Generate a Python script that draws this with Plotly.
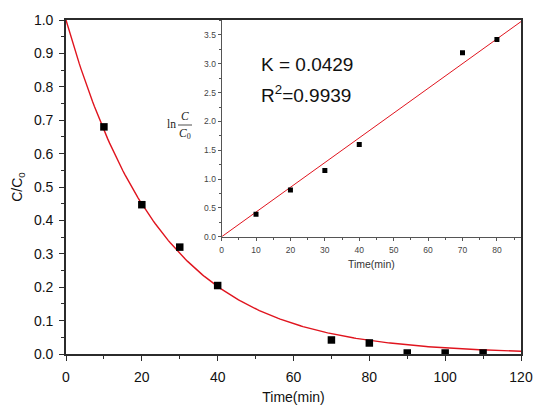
import numpy as np
import plotly.graph_objects as go

# Degradation kinetics: C/C0 over time, with ln(C0/C) linear fit in the inset
time_main = [10, 20, 30, 40, 70, 80, 90, 100, 110]
ratio_main = [0.68, 0.447, 0.32, 0.205, 0.042, 0.033, 0.003, 0.003, 0.003]

time_inset = [10, 20, 30, 40, 70, 80]
ln_ratio_inset = [0.39, 0.81, 1.15, 1.60, 3.19, 3.42]

k_rate = 0.0429        # slope of the linear fit (inset)
k_curve = 0.040        # decay constant of the exponential fit curve (main)
r_squared = 0.9939

# fitted curves
t_curve = np.linspace(0, 120, 241)
c_curve = np.exp(-k_curve * t_curve)
t_line = np.array([0, 87])
ln_line = k_rate * t_line

AX = "#2b2b2b"
RED = "#e0141e"

fig = go.Figure()

fig.add_trace(go.Scatter(x=t_curve, y=c_curve, mode="lines",
                         line=dict(color=RED, width=1.4),
                         xaxis="x", yaxis="y", showlegend=False))
fig.add_trace(go.Scatter(x=time_main, y=ratio_main, mode="markers",
                         marker=dict(symbol="square", size=7.5, color="black"),
                         xaxis="x", yaxis="y", showlegend=False))

fig.add_trace(go.Scatter(x=t_line, y=ln_line, mode="lines",
                         line=dict(color=RED, width=1),
                         xaxis="x2", yaxis="y2", showlegend=False))
fig.add_trace(go.Scatter(x=time_inset, y=ln_ratio_inset, mode="markers",
                         marker=dict(symbol="square", size=5, color="black"),
                         xaxis="x2", yaxis="y2", showlegend=False))

font_main = dict(family="Liberation Sans, Arial, sans-serif", size=14, color="#111")
font_inset = dict(family="Liberation Sans, Arial, sans-serif", size=8.5, color="#444")

fig.update_layout(
    width=535, height=405,
    margin=dict(l=66, r=14, t=20, b=51),
    paper_bgcolor="white", plot_bgcolor="white",
    font=font_main,
    xaxis=dict(domain=[0, 1], range=[0, 120], dtick=20, tick0=0,
               automargin=False,
               showgrid=False, zeroline=False,
               showline=True, linecolor=AX, linewidth=1.6, mirror=True,
               ticks="outside", ticklen=5, tickwidth=1.2, tickcolor=AX,
               minor=dict(dtick=10, ticks="outside", ticklen=3, tickcolor=AX),
               tickfont=font_main, ticklabelstandoff=4,
               title=dict(text="Time(min)", font=font_main, standoff=14)),
    yaxis=dict(domain=[0, 1], range=[0, 1.0], dtick=0.1, tick0=0,
               tickformat=".1f", automargin=False,
               showgrid=False, zeroline=False,
               showline=True, linecolor=AX, linewidth=1.6, mirror=True,
               ticks="outside", ticklen=5, tickwidth=1.2, tickcolor=AX,
               minor=dict(dtick=0.05, ticks="outside", ticklen=3, tickcolor=AX),
               tickfont=font_main, ticklabelstandoff=3,
               title=dict(text="C/C<sub>0</sub>", font=font_main, standoff=8)),
    xaxis2=dict(domain=[0.342, 1.0], anchor="y2", range=[0, 87], dtick=10, tick0=0,
                showgrid=False, zeroline=False,
                showline=True, linecolor="#555", linewidth=1,
                ticks="outside", ticklen=3, tickwidth=1, tickcolor="#555",
                minor=dict(dtick=5, ticks="outside", ticklen=2, tickcolor="#555"),
                tickfont=font_inset, ticklabelstandoff=2,
                title=dict(text="Time(min)",
                           font=dict(family="Liberation Sans, Arial, sans-serif",
                                     size=10.5, color="#333"),
                           standoff=6)),
    yaxis2=dict(domain=[0.351, 1.0], anchor="x2", range=[0, 3.76], dtick=0.5, tick0=0,
                tickformat=".1f",
                showgrid=False, zeroline=False,
                showline=True, linecolor="#555", linewidth=1,
                ticks="outside", ticklen=3, tickwidth=1, tickcolor="#555",
                minor=dict(dtick=0.25, ticks="outside", ticklen=2, tickcolor="#555"),
                tickfont=font_inset),
)

big = dict(family="Liberation Sans, Arial, sans-serif", size=19, color="#111")
fig.add_annotation(x=10.8, y=2.99, xref="x2", yref="y2", text=f"K = {k_rate}",
                   showarrow=False, xanchor="left", yanchor="middle", font=big)
fig.add_annotation(x=10.8, y=2.47, xref="x2", yref="y2",
                   text=f"R<sup>2</sup>={r_squared}",
                   showarrow=False, xanchor="left", yanchor="middle", font=big)

# ln(C/C0) label of the inset y axis, drawn as a stacked fraction
serif = dict(family="Liberation Serif, Times New Roman, serif", size=11.5, color="#222")
fig.add_annotation(x=171, y=124, xref="paper", yref="paper", text="ln",
                   showarrow=False, xanchor="center", yanchor="middle", font=serif)
fig.add_annotation(x=185, y=116, xref="paper", yref="paper", text="<i>C</i>",
                   showarrow=False, xanchor="center", yanchor="middle", font=serif)
fig.add_annotation(x=185, y=134, xref="paper", yref="paper", text="<i>C</i><sub>0</sub>",
                   showarrow=False, xanchor="center", yanchor="middle", font=serif)

# convert pixel positions of the fraction label to paper coordinates
plot_w, plot_h = 535 - 66 - 14, 405 - 20 - 51
for ann in fig.layout.annotations[2:]:
    ann.x = (ann.x - 66) / plot_w
    ann.y = (405 - 51 - ann.y) / plot_h
fig.add_shape(type="line", xref="paper", yref="paper",
              x0=(178 - 66) / plot_w, x1=(192 - 66) / plot_w,
              y0=(354 - 125) / plot_h, y1=(354 - 125) / plot_h,
              line=dict(color="#222", width=0.8))

fig.write_html("out.html")
